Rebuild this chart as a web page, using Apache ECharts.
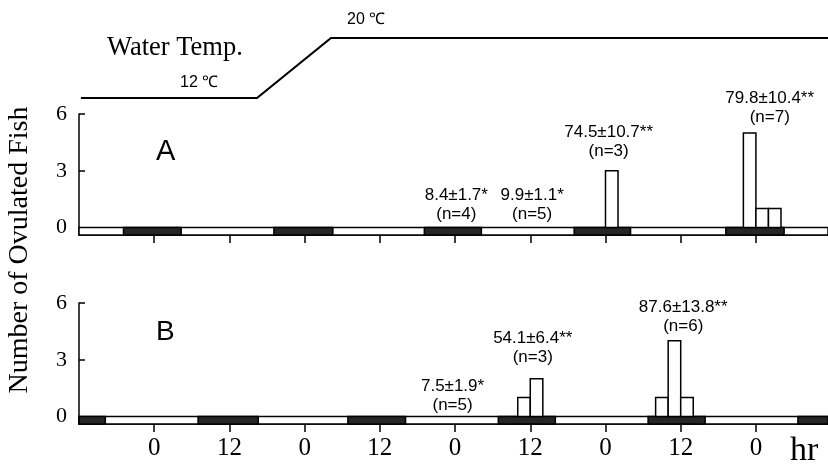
<!DOCTYPE html>
<html>
<head>
<meta charset="utf-8">
<script src="https://cdn.jsdelivr.net/npm/echarts@6/dist/echarts.min.js"></script>
<style>
  html, body { margin: 0; padding: 0; background: #fff; }
  #chart { width: 828px; height: 465px; }
</style>
</head>
<body>
<div id="chart"></div>
<script>
// hours, 0 = midnight of day 1
const hourTicks = [0, 12, 24, 36, 48, 60, 72, 84, 96]
const countTicks = [0, 3, 6]

// water temperature profile
const tempHours = [-11.7, 16.4, 28.2, 107.5]
const tempValues = [12, 12, 20, 20]

// dark periods of the light/dark strip [start, end]
const darkA = [[-4.9, 4.3], [19.1, 28.5], [43.1, 52.2], [67, 76], [91.2, 100.5]]
const darkB = [[-12, -7.8], [7, 16.6], [30.9, 40.1], [54.9, 64], [78.8, 87.9], [102.7, 107.5]]

// ovulated fish per 2 hr bin: bin start, count
const binStartA = [72, 94, 96, 98]
const countA = [3, 5, 1, 1]
const binStartB = [58, 60, 80, 82, 84]
const countB = [1, 2, 1, 4, 1]
const binWidth = 2

// annotations: x (hr), y of first line, first line, second line
const notesA = [
  [48.2, 1.7, '8.4±1.7*', '(n=4)'],
  [60.3, 1.7, '9.9±1.1*', '(n=5)'],
  [72.5, 5.05, '74.5±10.7**', '(n=3)'],
  [98.2, 6.85, '79.8±10.4**', '(n=7)']
]
const notesB = [
  [47.6, 1.6, '7.5±1.9*', '(n=5)'],
  [60.4, 4.15, '54.1±6.4**', '(n=3)'],
  [84.4, 5.75, '87.6±13.8**', '(n=6)']
]

const X_MIN = -12, X_MAX = 107.5
const Y_MIN = -0.4
const serif = '"Liberation Serif", "DejaVu Serif", serif'
const sans = '"Liberation Sans", Arial, sans-serif'

const chart = echarts.init(document.getElementById('chart'), null, { renderer: 'canvas' })

function stripItem(fill) {
  return function (params, api) {
    const p0 = api.coord([api.value(0), 0])
    const p1 = api.coord([api.value(1), Y_MIN])
    return {
      type: 'rect',
      shape: { x: p0[0], y: p0[1], width: p1[0] - p0[0], height: p1[1] - p0[1] },
      style: { fill: fill, stroke: '#000', lineWidth: 1.5 }
    }
  }
}

function barItem(params, api) {
  const p0 = api.coord([api.value(0), api.value(2)])
  const p1 = api.coord([api.value(0) + binWidth, 0])
  return {
    type: 'rect',
    shape: { x: p0[0], y: p0[1], width: p1[0] - p0[0], height: p1[1] - p0[1] },
    style: { fill: '#fff', stroke: '#000', lineWidth: 1.5 }
  }
}

function noteRenderer(notes) {
  return function (params, api) {
    const p = api.coord([api.value(0), api.value(1)])
    const d = notes[params.dataIndex]
    const font = '17px ' + sans
    return {
      type: 'group',
      children: [
        { type: 'text', x: p[0], y: p[1], style: { text: d[2], align: 'center', verticalAlign: 'middle', font: font, fill: '#000' } },
        { type: 'text', x: p[0], y: p[1] + 19, style: { text: d[3], align: 'center', verticalAlign: 'middle', font: font, fill: '#000' } }
      ]
    }
  }
}

function panelSeries(idx, dark, starts, counts, notes) {
  return [
    {
      type: 'custom', xAxisIndex: idx, yAxisIndex: idx, silent: true, clip: false,
      renderItem: stripItem('#fff'), data: [[X_MIN, X_MAX]]
    },
    {
      type: 'custom', xAxisIndex: idx, yAxisIndex: idx, silent: true, clip: false,
      renderItem: stripItem('#262626'), data: dark
    },
    {
      type: 'custom', xAxisIndex: idx, yAxisIndex: idx, silent: true, clip: false,
      renderItem: barItem, data: starts.map((s, i) => [s, s + binWidth, counts[i]])
    },
    {
      type: 'custom', xAxisIndex: idx, yAxisIndex: idx, silent: true, clip: false,
      renderItem: noteRenderer(notes), data: notes.map(n => [n[0], n[1]])
    }
  ]
}

function hourAxis(idx, showLabels) {
  return {
    type: 'value', gridIndex: idx, min: X_MIN, max: X_MAX,
    show: idx !== 0,
    splitLine: { show: false },
    axisLine: { show: true, onZero: false, lineStyle: { color: '#000', width: 1.5 } },
    axisTick: { show: true, customValues: hourTicks, length: 8, lineStyle: { color: '#000', width: 1.5 } },
    axisLabel: {
      show: showLabels, customValues: hourTicks, margin: 12,
      formatter: v => (v % 24 === 0 ? '0' : '12'),
      color: '#000', fontFamily: serif, fontSize: 25
    }
  }
}

function countAxis(idx) {
  return {
    type: 'value', gridIndex: idx, min: Y_MIN, max: 6,
    splitLine: { show: false },
    axisLine: { show: true, onZero: false, lineStyle: { color: '#000', width: 1.5 } },
    axisTick: { show: true, inside: true, customValues: countTicks, length: 6, lineStyle: { color: '#000', width: 1.5 } },
    axisLabel: { customValues: countTicks, margin: 12, color: '#000', fontFamily: serif, fontSize: 22 }
  }
}

chart.setOption({
  backgroundColor: '#fff',
  animation: false,
  grid: [
    { left: 79, right: 0, top: 38, height: 60 },
    { left: 79, right: 0, top: 114, height: 121 },
    { left: 79, right: 0, top: 303, height: 121 }
  ],
  xAxis: [hourAxis(0, false), hourAxis(1, false), hourAxis(2, true)],
  yAxis: [
    { type: 'value', gridIndex: 0, min: 12, max: 20, show: false },
    countAxis(1),
    countAxis(2)
  ],
  graphic: [
    { type: 'text', left: 107, top: 35, style: { text: 'Water Temp.', font: '26.5px ' + serif, fill: '#000' } },
    { type: 'text', left: 180, top: 75, style: { text: '12 ℃', font: '16px ' + sans, fill: '#000' } },
    { type: 'text', left: 347, top: 12, style: { text: '20 ℃', font: '16px ' + sans, fill: '#000' } },
    { type: 'text', left: 156, top: 137, style: { text: 'A', font: '29px ' + sans, fill: '#000' } },
    { type: 'text', left: 156, top: 318, style: { text: 'B', font: '28px ' + sans, fill: '#000' } },
    { type: 'text', left: 790, top: 434, style: { text: 'hr', font: '34px ' + serif, fill: '#000' } },
    {
      type: 'text', x: 20, y: 250, rotation: Math.PI / 2,
      style: { text: 'Number of Ovulated Fish', font: '28px ' + serif, fill: '#000', align: 'center', verticalAlign: 'middle' }
    }
  ],
  series: [
    {
      type: 'line', xAxisIndex: 0, yAxisIndex: 0, symbol: 'none', silent: true,
      lineStyle: { color: '#000', width: 2.2 },
      data: tempHours.map((h, i) => [h, tempValues[i]])
    },
    ...panelSeries(1, darkA, binStartA, countA, notesA),
    ...panelSeries(2, darkB, binStartB, countB, notesB)
  ]
})
</script>
</body>
</html>
